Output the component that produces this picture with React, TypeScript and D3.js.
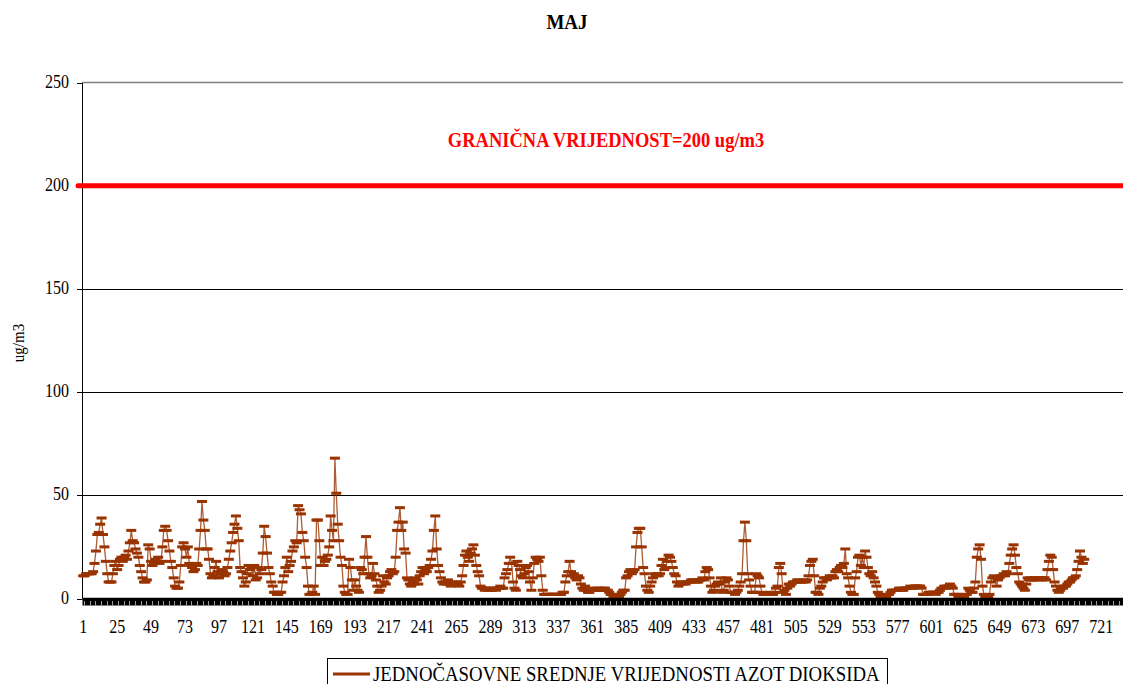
import React from 'react';
import * as d3 from 'd3';

// Hourly NO2 values (ug/m3), hour 1 .. 709
const no2Hourly: number[] = [
  11,11,12,12,12,12,12,13, 17,23,31,32,36,39, 31,25,18,12,8,8,
  8,12,16,18,14,16,19,20,18,20,21,19,23, 27,33,28,27,24,22,20,
  16,13,10,8,8,9,26, 24,18,16,17,19,18,20,17,18, 25,33,35,33,28,
  23,18,15,10,6,5,5, 8,16,25,27,24,20,25, 17,16,15,13,14,17,16,
  24,33,47,38,33,24, 24,19,12,10,11, 15,18,13,10,12,14,13,11,
  12,15,19,23,27, 32,36,40,34,28, 15,13,10,6,8,
  12,16,14,15,11,16,9,10,15,12,14, 22,35,30,22, 15,12,8,6,3,3,2,
  2,3,3,8, 11,15,20,13,16, 18,23,25,28,27, 45,43,41,32, 28,20,15,6,
  2,2,3,6,2, 38,38,28, 16,20,16,18,19, 21,25,40,33,28, 68,
  51,36,28,20, 16,6,3,2,2, 19,15,9,4,9, 6,4,3,15,14,12,
  20,30,20,12,10, 11,17,12,9,6, 3,4,6,11,8,7, 10,11,13,14,12,13,
  20,33,37,44,33, 37,24,22,10,9, 7,6,8,7,10,9,7, 11,13,15,12,14,13,15,
  16,19,23,33,40, 24,16,13,10,8,7, 8,7,9,7,6,7,8,7,8,7,
  6,8,11,16,21,23,20,18,22,24, 26,21,16,13,11,6,
  5,5,4,5,4,5,4,4,5,5,4,5,5,6,5,5, 10,12,14,17,20,
  17,8,5,4,18,16,14, 11,10,12,15,16,13,8, 4,10,17,20,19, 18,20,11,4,2,
  2,2,2,2,2,2,2,2,2,2,2,2,3,3, 8,11,13,18,13,11,12, 10,9,11,10,7,5,4,
  6,4,3,3,4, 5,4,4,5,4,5,4,4,5,5,4,4, 3,2,2,1,1,1,1,1,2, 3,4,4,10,
  11,13,14,12,13,14,25, 32,34,34,25,15, 12,6,4,3,6,8,
  10,12,11,12,11,12,16, 19,14,15,18,21,20, 18,15,12,11,8,6,7,
  8,7,8,7,8,8,8,9,9,9,8,8,8,9,9,10,9,13,15,14,
  10,6,3,4,6,7,8,7,10, 3,4,8,10,9,6,3,3, 3,2,3,4,6,8,12,28, 37,
  28,12,9,6,3,3,3, 12,11,10,6, 3,2,2,2,2,2,3,2,2,3, 5,6,15,17,
  12,3,4,2,5,7, 6,7,8,8,8,9,9,8,8,8,9,8,9, 11,16,18,19,11,
  3,3,2,5,6,8, 10,10,9,10,11,10,11,10,13, 14,13,15,16,15,17, 24,
  12,10,6,3,2,2,10, 13,20,21,16,20,15, 23,20,15, 12,11,13,10,8,
  6,3,2,1,1,1,1, 1,2,2,3,4,4,4, 4,4,5,5,4,4,5,5,5,5,6,5,5,6,6,6,6,6,5,
  2,2,2,2,3,3,3,3,3,2,3,3, 4,5,5,6,5,6,6,7,6,5, 2,2,2,1,1,1,1,1,2,2,
  5,4,3,3,5, 8,20,24,26,19,6, 2,1,1,1,2, 8,10,11,10,6,9,10,11,
  11,12,11,13,12, 17,21,24,26,21,15, 12,8,7, 6,5,4,7,10,9,
  10,9,9,10,10,9,10,10,9,10,10,9, 14,18,21,20,14, 8,6,4,3,4,
  5,5,6,6,7,8,8,9,10,10,11, 14,18,23,20,17,19,
];

const categoryCount = 744;
const xTickLabels: number[] = [
  1, 25, 49, 73, 97, 121, 145, 169, 193, 217, 241, 265, 289, 313, 337, 361,
  385, 409, 433, 457, 481, 505, 529, 553, 577, 601, 625, 649, 673, 697, 721,
];
const yTickValues: number[] = [0, 50, 100, 150, 200, 250];
const gridValues: number[] = [50, 100, 150];
const limitValue = 200;
const yMax = 250;

const titleText = 'MAJ';
const limitLabel = 'GRANIČNA VRIJEDNOST=200 ug/m3';
const yAxisTitle = 'ug/m3';
const legendLabel = 'JEDNOČASOVNE SREDNJE VRIJEDNOSTI AZOT DIOKSIDA';

const W = 1123;
const H = 684;
const PLOT_LEFT = 82.5;
const CAT_W = 1.4139;
const PLOT_RIGHT = PLOT_LEFT + categoryCount * CAT_W;
const PLOT_TOP = 82.5;
const PLOT_BOTTOM = 598.5;

const FONT = '"Liberation Serif", "Times New Roman", Times, serif';
const SERIES_COLOR = '#993300';

type TProps = {
  x: number; y: number; children: React.ReactNode; anchor?: string;
  size?: number; weight?: string; fill?: string; rotate?: number; stretch?: number;
};
const T = ({ x, y, children, anchor = 'middle', size = 16, weight = 'normal', fill = '#000', rotate = 0, stretch = 1.2 }: TProps) => (
  <text
    transform={`translate(${x},${y}) rotate(${rotate}) scale(1,${stretch})`}
    textAnchor={anchor}
    fontFamily={FONT}
    fontSize={size}
    fontWeight={weight}
    fill={fill}
  >
    {children}
  </text>
);

export default function App() {
  const x = d3.scaleLinear().domain([0, categoryCount]).range([PLOT_LEFT, PLOT_RIGHT]);
  const y = d3.scaleLinear().domain([0, yMax]).range([PLOT_BOTTOM, PLOT_TOP]);
  const cx = (i: number) => x(i + 0.5);
  const linePath = d3.line<number>().x((_, i) => cx(i)).y((d) => y(d))(no2Hourly) || '';
  const gapTicks = d3.range(0, categoryCount + 1, 4);

  return (
    <svg width={W} height={H} style={{ position: 'absolute', left: 0, top: 0, background: '#fff' }}>
      <rect x={0} y={0} width={W} height={H} fill="#fff" />
      {/* title */}
      <T x={567} y={29} size={19} weight="bold" stretch={1.1}>{titleText}</T>

      {/* top border (250) */}
      <line x1={PLOT_LEFT} x2={PLOT_RIGHT} y1={y(yMax)} y2={y(yMax)} stroke="#808080" strokeWidth={1.5} />
      {/* gridlines */}
      {gridValues.map((v) => (
        <line key={v} x1={PLOT_LEFT} x2={PLOT_RIGHT} y1={Math.round(y(v)) + 0.5} y2={Math.round(y(v)) + 0.5} stroke="#000" strokeWidth={1} />
      ))}

      {/* y axis */}
      <line x1={PLOT_LEFT} x2={PLOT_LEFT} y1={PLOT_TOP} y2={PLOT_BOTTOM} stroke="#000" strokeWidth={1} />
      {yTickValues.map((v) => (
        <g key={v}>
          <line x1={77} x2={PLOT_LEFT} y1={Math.round(y(v)) + 0.5} y2={Math.round(y(v)) + 0.5} stroke="#000" />
          <T x={69} y={y(v) + 5} anchor="end" size={16}>{v}</T>
        </g>
      ))}
      <T x={24} y={343} size={15} rotate={-90} stretch={1.1}>{yAxisTitle}</T>

      {/* limit line */}
      <line x1={78} x2={PLOT_RIGHT} y1={y(limitValue)} y2={y(limitValue)} stroke="#ff0000" strokeWidth={5} strokeLinecap="round" />
      <T x={606} y={147} size={18.5} weight="bold" fill="#ff0000" stretch={1.1}>{limitLabel}</T>

      {/* series */}
      <path d={linePath} fill="none" stroke={SERIES_COLOR} strokeWidth={1.3} strokeOpacity={0.8} />
      {no2Hourly.map((v, i) => (
        <rect key={i} x={cx(i) - 5} y={y(v) - 1.5} width={10} height={3} fill={SERIES_COLOR} />
      ))}

      {/* x axis with dense category tick marks */}
      <line x1={PLOT_LEFT} x2={PLOT_RIGHT} y1={PLOT_BOTTOM} y2={PLOT_BOTTOM} stroke="#000" strokeWidth={1.5} />
      <rect x={PLOT_LEFT} y={PLOT_BOTTOM} width={PLOT_RIGHT - PLOT_LEFT} height={7} fill="#000" />
      <g shapeRendering="crispEdges">
        {gapTicks.map((k) => (
          <line key={k} x1={x(k) + 2} x2={x(k) + 2} y1={PLOT_BOTTOM + 2} y2={PLOT_BOTTOM + 7} stroke="#9a9a9a" strokeWidth={1} />
        ))}
      </g>
      {xTickLabels.map((lab) => (
        <T key={lab} x={cx(lab - 1)} y={633} size={16}>{lab}</T>
      ))}

      {/* legend */}
      <rect x={327.5} y={658.5} width={560} height={40} fill="#fff" stroke="#000" strokeWidth={1} />
      <line x1={333} x2={370} y1={674} y2={674} stroke={SERIES_COLOR} strokeWidth={3} />
      <T x={373} y={681} anchor="start" size={18.8} stretch={1.1}>{legendLabel}</T>
    </svg>
  );
}
